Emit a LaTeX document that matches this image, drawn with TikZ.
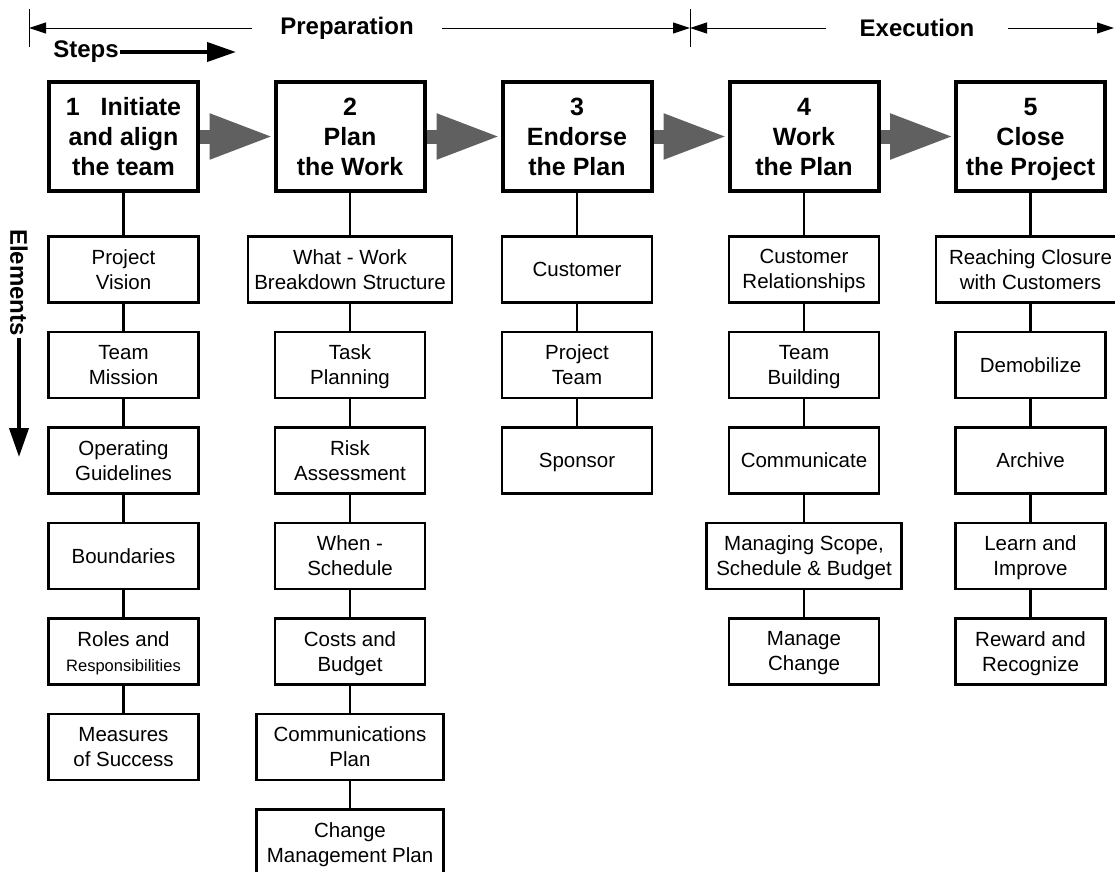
\documentclass[tikz,border=0pt]{standalone}
\usepackage{fontspec}
\setmainfont{Liberation Sans}
\usetikzlibrary{arrows.meta, positioning}
\definecolor{stepgray}{RGB}{96,96,96}

\begin{document}
\begin{tikzpicture}[x=1pt, y=1pt,
    stepbox/.style={draw, line width=4pt, minimum width=149pt, minimum height=109pt,
                    inner sep=0pt, align=center, text depth=0pt,
                    font=\fontsize{25}{30}\selectfont\bfseries},
    elembox/.style={draw, line width=2.5pt, minimum width=150pt, minimum height=66pt,
                    inner sep=0pt, align=center, text depth=0pt,
                    font=\fontsize{20.5}{25}\selectfont},
    heading/.style={font=\fontsize{24}{28}\selectfont\bfseries},
    dimline/.style={line width=1pt, -{Triangle[length=17pt, width=11pt]}},
    fatarrow/.style={line width=4pt, -{Triangle[length=29pt, width=19pt]}},
    bigarrow/.style={draw=stepgray, line width=14pt, -{Triangle[length=64pt, width=42pt]}},
    link/.style={line width=2.5pt},
    node distance=27pt]

\useasboundingbox (0,0) rectangle (1115,-871);
\clip (0,0) rectangle (1115,-871);

% Phases
\node[heading, inner xsep=28pt] (prep) at (347,-28) {Preparation};
\node[heading, inner xsep=33pt] (exec) at (917,-28) {Execution};
\coordinate (t1) at (29,-28);
\coordinate (t2) at (690,-28);
\coordinate (t3) at (1114,-28);
\draw[line width=1pt] (29,-9) -- (29,-47);
\draw[line width=1pt] (690,-9) -- (690,-47);
\draw[dimline] (prep) -- (t1);
\draw[dimline] (prep) -- (t2);
\draw[dimline] (exec) -- (t2);
\draw[dimline] (exec) -- (t3);

% Axes
\node[heading, inner sep=1pt] (steps) at (86,-52) {Steps};
\coordinate (stepstip) at (236,-52);
\draw[fatarrow] (steps) -- (stepstip);
\node[heading, rotate=-90, inner sep=2pt] (elems) at (19,-282.5) {Elements};
\coordinate (elemstip) at (19,-457);
\draw[fatarrow] (elems) -- (elemstip);

% Steps
\node[stepbox] (s1) at (123.5,-136.5) {1~~~Initiate\\and align\\the team};
\node[stepbox] (s2) at (350,-136.5)   {2\\Plan\\the Work};
\node[stepbox] (s3) at (577,-136.5)   {3\\Endorse\\the Plan};
\node[stepbox] (s4) at (804,-136.5)   {4\\Work\\the Plan};
\node[stepbox] (s5) at (1030.5,-136.5) {5\\Close\\the Project};

% Elements
\node[elembox, below=42pt of s1] (pv) {Project\\Vision};
\node[elembox, below=of pv] (tm) {Team\\Mission};
\node[elembox, below=of tm] (og) {Operating\\Guidelines};
\node[elembox, below=of og] (bd) {Boundaries};
\node[elembox, below=of bd] (rr) {Roles and\\{\fontsize{16.5}{20}\selectfont Responsibilities}};
\node[elembox, below=of rr] (ms) {Measures\\of Success};

\node[elembox, below=42pt of s2, minimum width=204pt] (wbs) {What - Work\\Breakdown Structure};
\node[elembox, below=of wbs] (tp) {Task\\Planning};
\node[elembox, below=of tp] (ra) {Risk\\Assessment};
\node[elembox, below=of ra] (sch) {When -\\Schedule};
\node[elembox, below=of sch] (cb) {Costs and\\Budget};
\node[elembox, below=of cb, minimum width=187pt] (cp) {Communications\\Plan};
\node[elembox, below=of cp, minimum width=187pt] (cmp) {Change\\Management Plan};

\node[elembox, below=42pt of s3] (cu) {Customer};
\node[elembox, below=of cu] (pt) {Project\\Team};
\node[elembox, below=of pt] (sp) {Sponsor};

\node[elembox, below=42pt of s4] (cr) {Customer\\Relationships};
\node[elembox, below=of cr] (tb) {Team\\Building};
\node[elembox, below=of tb] (co) {Communicate};
\node[elembox, below=of co, minimum width=195pt] (msb) {Managing Scope,\\Schedule \& Budget};
\node[elembox, below=of msb] (mc) {Manage\\Change};

\node[elembox, below=42pt of s5, minimum width=189pt] (rc) {Reaching Closure\\with Customers};
\node[elembox, below=of rc] (dm) {Demobilize};
\node[elembox, below=of dm] (ar) {Archive};
\node[elembox, below=of ar] (li) {Learn and\\Improve};
\node[elembox, below=of li] (rw) {Reward and\\Recognize};

% Edges
\foreach \a/\b in {s1/s2, s2/s3, s3/s4, s4/s5}
  \draw[bigarrow] (\a) -- (\b);
\foreach \a/\b in {s1/pv, pv/tm, tm/og, og/bd, bd/rr, rr/ms,
                   s2/wbs, wbs/tp, tp/ra, ra/sch, sch/cb, cb/cp, cp/cmp,
                   s3/cu, cu/pt, pt/sp,
                   s4/cr, cr/tb, tb/co, co/msb, msb/mc,
                   s5/rc, rc/dm, dm/ar, ar/li, li/rw}
  \draw[link] (\a) -- (\b);

\end{tikzpicture}
\end{document}
